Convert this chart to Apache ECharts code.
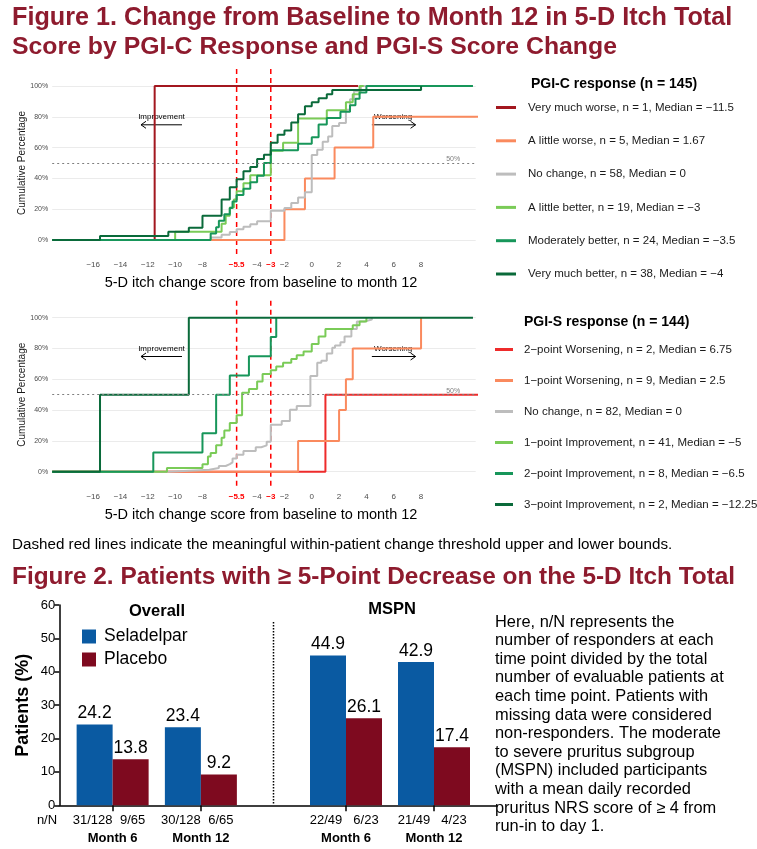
<!DOCTYPE html>
<html>
<head>
<meta charset="utf-8">
<script src="https://cdn.jsdelivr.net/npm/echarts@6/dist/echarts.min.js"></script>
<style>
html, body { margin: 0; padding: 0; background: #fff; }
#chart { width: 757px; height: 849px; }
</style>
</head>
<body>
<div id="chart"></div>
<script>
const FONT = '"Liberation Sans", Arial, Helvetica, sans-serif'
const TITLE_RED = '#8E1B2E'

// ---- Figure 1 data: step points [change score, cumulative %] ----
const xTickValues = [-16, -14, -12, -10, -8, -5.5, -4, -3, -2, 0, 2, 4, 6, 8]
const thresholds = [-5.5, -3]

const pgicNames = [
    'Very much worse, n = 1, Median = \u221211.5',
    'A little worse, n = 5, Median = 1.67',
    'No change, n = 58, Median = 0',
    'A little better, n = 19, Median = \u22123',
    'Moderately better, n = 24, Median = \u22123.5',
    'Very much better, n = 38, Median = \u22124'
]
const pgicColors = ['#A3171F', '#FA8A5E', '#BDBDBD', '#7ACB57', '#17965A', '#0A6A3A']

const pgicVeryMuchWorse = [[-11.5, 100], [3.4, 100]]
const pgicLittleWorse = [[-2, 20], [-0.5, 40], [1.67, 60], [4.5, 80], [12.5, 100]]
const pgicNoChange = [[-7.4, 1.7], [-6.6, 3.4], [-6, 5.2], [-5.5, 6.9], [-5, 8.6], [-4.5, 10.3], [-4, 12.1],
    [-3, 19], [-2, 20.7], [-1.5, 24.1], [-1, 27.6], [-0.5, 31], [0, 55.2], [0.4, 58.6], [0.8, 63.8],
    [1.2, 67.2], [1.5, 74.1], [2, 75.9], [2.5, 84.5], [2.8, 91.4], [3.1, 96.6], [3.6, 100], [4, 100]]
const pgicLittleBetter = [[-10, 5.3], [-6.6, 10.5], [-6.3, 15.8], [-6, 21.1], [-5.7, 26.3], [-5.5, 31.6],
    [-5, 36.8], [-4.5, 42.1], [-3, 57.9], [-2.1, 63.2], [-1, 78.9], [1.1, 84.2], [2.5, 89.5], [3, 94.7],
    [3.5, 100], [3.8, 100]]
const pgicModeratelyBetter = [[-7.4, 4.2], [-7, 8.3], [-6.8, 12.5], [-6.4, 16.7], [-6, 20.8], [-5.8, 25],
    [-5.5, 29.2], [-5, 33.3], [-4.5, 37.5], [-4, 41.7], [-3.5, 50], [-3, 58.3], [-1, 62.5], [0, 66.7],
    [0.5, 75], [1.1, 79.2], [2.1, 83.3], [2.8, 87.5], [3.2, 91.7], [3.5, 95.8], [4, 100], [11.8, 100]]
const pgicVeryMuchBetter = [[-15.5, 2.6], [-10.5, 5.3], [-9, 7.9], [-8, 15.8], [-6.6, 26.3], [-6, 34.2],
    [-5.5, 39.5], [-5, 44.7], [-4.5, 47.4], [-4, 52.6], [-3.5, 55.3], [-3, 63.2], [-2.5, 68.4], [-2, 71.1],
    [-1.5, 76.3], [-1, 81.6], [-0.5, 86.8], [0, 89.5], [0.5, 92.1], [1.1, 94.7], [1.5, 97.4], [8, 100]]

const pgisNames = [
    '2\u2212point Worsening, n = 2, Median = 6.75',
    '1\u2212point Worsening, n = 9, Median = 2.5',
    'No change, n = 82, Median = 0',
    '1\u2212point Improvement, n = 41, Median = \u22125',
    '2\u2212point Improvement, n = 8, Median = \u22126.5',
    '3\u2212point Improvement, n = 2, Median = \u221212.25'
]
const pgisColors = ['#EE2B2B', '#FA8A5E', '#BDBDBD', '#7ACB57', '#17965A', '#0A6A3A']

const pgisTwoWorse = [[1, 50], [12.4, 100]]
const pgisOneWorse = [[-1, 20], [2, 40], [2.5, 60], [3, 80], [8, 100]]
const pgisNoChange = [[-10.5, 1.2], [-7.5, 2.4], [-6.8, 3.7], [-6.3, 4.9], [-6, 6.1], [-5.8, 8.5], [-5.5, 11],
    [-5, 13.4], [-4.1, 15.9], [-3.7, 17.1], [-3.3, 19.5], [-3, 30.5], [-2.2, 33], [-1.6, 40.2], [-1.1, 42.7],
    [-0.1, 62.2], [0.4, 70.7], [0.7, 72], [1.1, 76.8], [1.5, 80.5], [1.7, 82], [2.1, 84.1], [2.4, 87.8],
    [2.9, 92.7], [3.3, 97.6], [3.9, 98.8], [4.4, 100]]
const pgisOneImprove = [[-10.6, 2.4], [-8, 4.9], [-7.6, 9.8], [-7.4, 12.2], [-7, 17.1], [-6.6, 22], [-6.4, 26.8],
    [-6, 31.7], [-5.5, 36.6], [-5.1, 51.2], [-4.6, 53.7], [-4, 58.5], [-3.6, 63.4], [-3, 65.9], [-2.6, 68.3],
    [-2.1, 70.7], [-1.5, 73.2], [-1.1, 75.6], [-0.6, 78], [0, 82.9], [0.5, 87.8], [1, 92.7], [3, 95.1],
    [3.5, 97.6], [4, 100]]
const pgisTwoImprove = [[-11.6, 12.5], [-8, 25], [-7, 50], [-6, 62.5], [-4.6, 75], [-3, 87.5], [-2.6, 100]]
const pgisThreeImprove = [[-15.5, 50], [-9, 100], [11.8, 100]]

// ---- Figure 2 data ----
const barMonths = ['Month 6', 'Month 12']
const overallSeladelpar = [24.2, 23.4]
const overallPlacebo = [13.8, 9.2]
const mspnSeladelpar = [44.9, 42.9]
const mspnPlacebo = [26.1, 17.4]
const overallSeladelparN = ['31/128', '30/128']
const overallPlaceboN = ['9/65', '6/65']
const mspnSeladelparN = ['22/49', '21/49']
const mspnPlaceboN = ['6/23', '4/23']

const noteLines = [
    'Here, n/N represents the',
    'number of responders at each',
    'time point divided by the total',
    'number of evaluable patients at',
    'each time point. Patients with',
    'missing data were considered',
    'non-responders. The moderate',
    'to severe pruritus subgroup',
    '(MSPN) included participants',
    'with a mean daily recorded',
    'pruritus NRS score of \u2265 4 from',
    'run-in to day 1.'
]

const X_MIN = -19
const X_MAX = 12
const BLUE = '#0A5AA2'
const WINE = '#7E0A1F'

const fmtMinus = (v) => (v < 0 ? '\u2212' + Math.abs(v) : String(v))

const stepSeries = (name, color, points, idx) => ({
    type: 'line',
    name,
    step: 'end',
    xAxisIndex: idx,
    yAxisIndex: idx,
    data: [[X_MIN, 0]].concat(points),
    showSymbol: false,
    symbol: 'none',
    clip: false,
    lineStyle: { color, width: 2 },
    itemStyle: { color },
    emphasis: { disabled: true },
    animation: false
})

const midLine = {
    silent: true,
    symbol: 'none',
    data: [{ yAxis: 50 }],
    lineStyle: { type: [2, 3], color: '#7F7F7F', width: 1 },
    label: { show: false },
    animation: false
}

const stepXAxis = (idx) => ({
    type: 'value',
    gridIndex: idx,
    min: X_MIN,
    max: X_MAX,
    axisLine: { show: false },
    axisTick: { show: false },
    splitLine: { show: false },
    axisLabel: {
        customValues: xTickValues,
        margin: 21,
        fontSize: 8,
        fontFamily: FONT,
        color: '#4D4D4D',
        formatter: (v) => thresholds.includes(v) ? '{red|' + fmtMinus(v) + '}' : fmtMinus(v),
        rich: { red: { color: '#FF0000', fontWeight: 'bold', fontSize: 8, fontFamily: FONT } }
    }
})

const stepYAxis = (idx) => ({
    type: 'value',
    gridIndex: idx,
    min: 0,
    max: 100,
    interval: 20,
    axisLine: { show: false },
    axisTick: { show: false },
    splitLine: { show: true, lineStyle: { color: '#EBEBEB', width: 1.2 } },
    axisLabel: { formatter: '{value}%', fontSize: 7, fontFamily: FONT, color: '#4D4D4D', margin: 4 }
})

const pgicData = [pgicVeryMuchWorse, pgicLittleWorse, pgicNoChange, pgicLittleBetter, pgicModeratelyBetter, pgicVeryMuchBetter]
const pgisData = [pgisTwoWorse, pgisOneWorse, pgisNoChange, pgisOneImprove, pgisTwoImprove, pgisThreeImprove]

const series = []
pgicData.forEach((d, i) => series.push(stepSeries(pgicNames[i], pgicColors[i], d, 0)))
pgisData.forEach((d, i) => series.push(stepSeries(pgisNames[i], pgisColors[i], d, 1)))
series[0].markLine = midLine
series[6].markLine = midLine

const barLabel = { show: true, position: 'top', distance: 2, fontSize: 17.5, fontFamily: FONT, color: '#000' }
const barSeries = (name, data, idx, color) => ({
    type: 'bar', name, data, xAxisIndex: idx, yAxisIndex: idx,
    barWidth: 36, barGap: '0%',
    itemStyle: { color },
    label: barLabel,
    animation: false
})
series.push(barSeries('Seladelpar', overallSeladelpar, 2, BLUE))
series.push(barSeries('Placebo', overallPlacebo, 2, WINE))
series.push(barSeries('Seladelpar', mspnSeladelpar, 3, BLUE))
series.push(barSeries('Placebo', mspnPlacebo, 3, WINE))

const barXAxis = (idx, selN, plaN) => ({
    type: 'category',
    gridIndex: idx,
    data: barMonths,
    axisLine: { show: false },
    axisTick: { show: true, alignWithLabel: true, length: 6, lineStyle: { color: '#000', width: 1.5 } },
    axisLabel: {
        interval: 0,
        hideOverlap: false,
        margin: 6,
        fontFamily: FONT,
        color: '#000',
        formatter: (v, i) => '{sel|' + selN[i] + '}{pla|' + plaN[i] + '}\n{mon|' + v + '}',
        rich: {
            sel: { width: 40, align: 'center', fontSize: 13, fontFamily: FONT, color: '#000', lineHeight: 18 },
            pla: { width: 40, align: 'center', fontSize: 13, fontFamily: FONT, color: '#000', lineHeight: 18 },
            mon: { fontSize: 13, fontWeight: 'bold', fontFamily: FONT, color: '#000', lineHeight: 18 }
        }
    }
})

const option = {
    backgroundColor: '#fff',
    animation: false,
    textStyle: { fontFamily: FONT },
    grid: [
        { left: 52.2, width: 423.5, top: 86, height: 154 },
        { left: 52.2, width: 423.5, top: 317.7, height: 154 },
        { left: 68.5, width: 176.5, top: 605, height: 200.3 },
        { left: 302, width: 176, top: 605, height: 200.3 },
        { left: 59.3, width: 437.7, top: 605, height: 200.3 }
    ],
    xAxis: [
        stepXAxis(0),
        stepXAxis(1),
        barXAxis(2, overallSeladelparN, overallPlaceboN),
        barXAxis(3, mspnSeladelparN, mspnPlaceboN),
        {
            type: 'value', gridIndex: 4, min: 0, max: 1,
            axisLine: { show: true, onZero: false, lineStyle: { color: '#000', width: 1.5 } },
            axisTick: { show: false }, axisLabel: { show: false }, splitLine: { show: false }
        }
    ],
    yAxis: [
        stepYAxis(0),
        stepYAxis(1),
        {
            type: 'value', gridIndex: 2, min: 0, max: 60, interval: 10, offset: 9.2,
            axisLine: { show: true, lineStyle: { color: '#000', width: 1.5 } },
            axisTick: { show: true, length: 5, lineStyle: { color: '#000', width: 1.5 } },
            splitLine: { show: false },
            axisLabel: { fontSize: 13, fontFamily: FONT, color: '#000', margin: 4 },
            name: 'Patients (%)',
            nameLocation: 'middle',
            nameGap: 27,
            nameTextStyle: { fontSize: 18, fontWeight: 'bold', fontFamily: FONT, color: '#000' }
        },
        { type: 'value', gridIndex: 3, min: 0, max: 60, show: false },
        { type: 'value', gridIndex: 4, min: 0, max: 1, show: false }
    ],
    legend: [
        {
            data: pgicNames, orient: 'vertical', left: 491, top: 95.5,
            icon: 'rect', itemWidth: 20, itemHeight: 3, itemGap: 19.3,
            selectedMode: false,
            textStyle: { fontSize: 11.5, fontFamily: FONT, color: '#1A1A1A', lineHeight: 14, padding: [0, 0, 0, 7] }
        },
        {
            data: pgisNames, orient: 'vertical', left: 490, top: 337.5,
            icon: 'rect', itemWidth: 18, itemHeight: 3, itemGap: 17,
            selectedMode: false,
            textStyle: { fontSize: 11.5, fontFamily: FONT, color: '#1A1A1A', lineHeight: 14, padding: [0, 0, 0, 6] }
        },
        {
            data: ['Seladelpar', 'Placebo'], orient: 'vertical', left: 77, top: 621.5,
            icon: 'rect', itemWidth: 14, itemHeight: 14, itemGap: 3,
            selectedMode: false,
            textStyle: { fontSize: 17.5, fontFamily: FONT, color: '#000', lineHeight: 20, padding: [0, 0, 0, 3] }
        }
    ],
    series
}

const chart = echarts.init(document.getElementById('chart'), null, { renderer: 'canvas' })
chart.setOption(option)

// ---- annotations placed through the axes ----
const px = (g, v, p) => chart.convertToPixel({ gridIndex: g }, [v, p])

const text = (str, x, y, size, opts = {}) => ({
    type: 'text',
    x, y,
    rotation: opts.rotation || 0,
    silent: true,
    style: {
        text: str,
        font: (opts.bold ? 'bold ' : '') + size + 'px ' + FONT,
        fill: opts.color || '#000',
        align: opts.align || 'left',
        verticalAlign: 'middle'
    }
})

const arrow = (g, from, to, p) => {
    const a = px(g, from, p)
    const b = px(g, to, p)
    const dir = Math.sign(b[0] - a[0])
    return [
        { type: 'line', silent: true, shape: { x1: a[0], y1: a[1], x2: b[0], y2: b[1] }, style: { stroke: '#000', lineWidth: 1 } },
        {
            type: 'polyline', silent: true,
            shape: { points: [[b[0] - dir * 5, b[1] - 3.5], [b[0], b[1]], [b[0] - dir * 5, b[1] + 3.5]] },
            style: { stroke: '#000', fill: null, lineWidth: 1 }
        }
    ]
}

const graphics = []

// titles and captions
graphics.push(text('Figure 1. Change from Baseline to Month 12 in 5-D Itch Total', 12, 18, 25.2, { bold: true, color: TITLE_RED }))
graphics.push(text('Score by PGI-C Response and PGI-S Score Change', 12, 47, 24.8, { bold: true, color: TITLE_RED }))
graphics.push(text('Dashed red lines indicate the meaningful within-patient change threshold upper and lower bounds.', 12, 545, 15.2))
graphics.push(text('Figure 2. Patients with \u2265 5-Point Decrease on the 5-D Itch Total', 12, 577, 24.4, { bold: true, color: TITLE_RED }))
graphics.push(text('PGI-C response (n = 145)', 531, 84, 14, { bold: true }))
graphics.push(text('PGI-S response (n = 144)', 524, 322, 14, { bold: true }))

;[0, 1].forEach((g) => {
    const top = px(g, 0, 100)[1]
    const bottom = px(g, 0, 0)[1]
    const mid = px(g, 0, 50)[1]
    // axis titles
    graphics.push(text('5-D itch change score from baseline to month 12', 261, bottom + 43, 14.5, { align: 'center' }))
    graphics.push(text('Cumulative Percentage', 22, mid, 10, { align: 'center', rotation: Math.PI / 2, color: '#1A1A1A' }))
    // threshold lines
    thresholds.forEach((t) => {
        const x = px(g, t, 0)[0]
        graphics.push({
            type: 'line', silent: true,
            shape: { x1: x, y1: top - 17, x2: x, y2: bottom + 18 },
            style: { stroke: '#FF0000', lineWidth: 1.5, lineDash: [5, 4] }
        })
    })
    // 50% tag
    const tag = px(g, 10.35, 52.5)
    graphics.push(text('50%', tag[0], tag[1], 7, { align: 'center', color: '#7F7F7F' }))
    // direction arrows
    const imp = px(g, -11, 80)
    graphics.push(text('Improvement', imp[0], imp[1], 8, { align: 'center' }))
    graphics.push(...arrow(g, -9.5, -12.5, 74.8))
    const wor = px(g, 5.95, 80)
    graphics.push(text('Worsening', wor[0], wor[1], 8, { align: 'center' }))
    graphics.push(...arrow(g, 4.4, 7.6, 74.8))
})

// Figure 2 extras
graphics.push(text('Overall', 157, 611, 16.5, { bold: true, align: 'center' }))
graphics.push(text('MSPN', 392, 609, 16.5, { bold: true, align: 'center' }))
graphics.push(text('n/N', 47, 820, 13, { align: 'center' }))
graphics.push({
    type: 'line', silent: true,
    shape: { x1: 273.5, y1: 622, x2: 273.5, y2: 805 },
    style: { stroke: '#000', lineWidth: 1.5, lineDash: [1.5, 1.5] }
})
noteLines.forEach((line, i) => {
    graphics.push(text(line, 495, 622 + i * 18.6, 16.4))
})

chart.setOption({ graphic: graphics })
</script>
</body>
</html>
